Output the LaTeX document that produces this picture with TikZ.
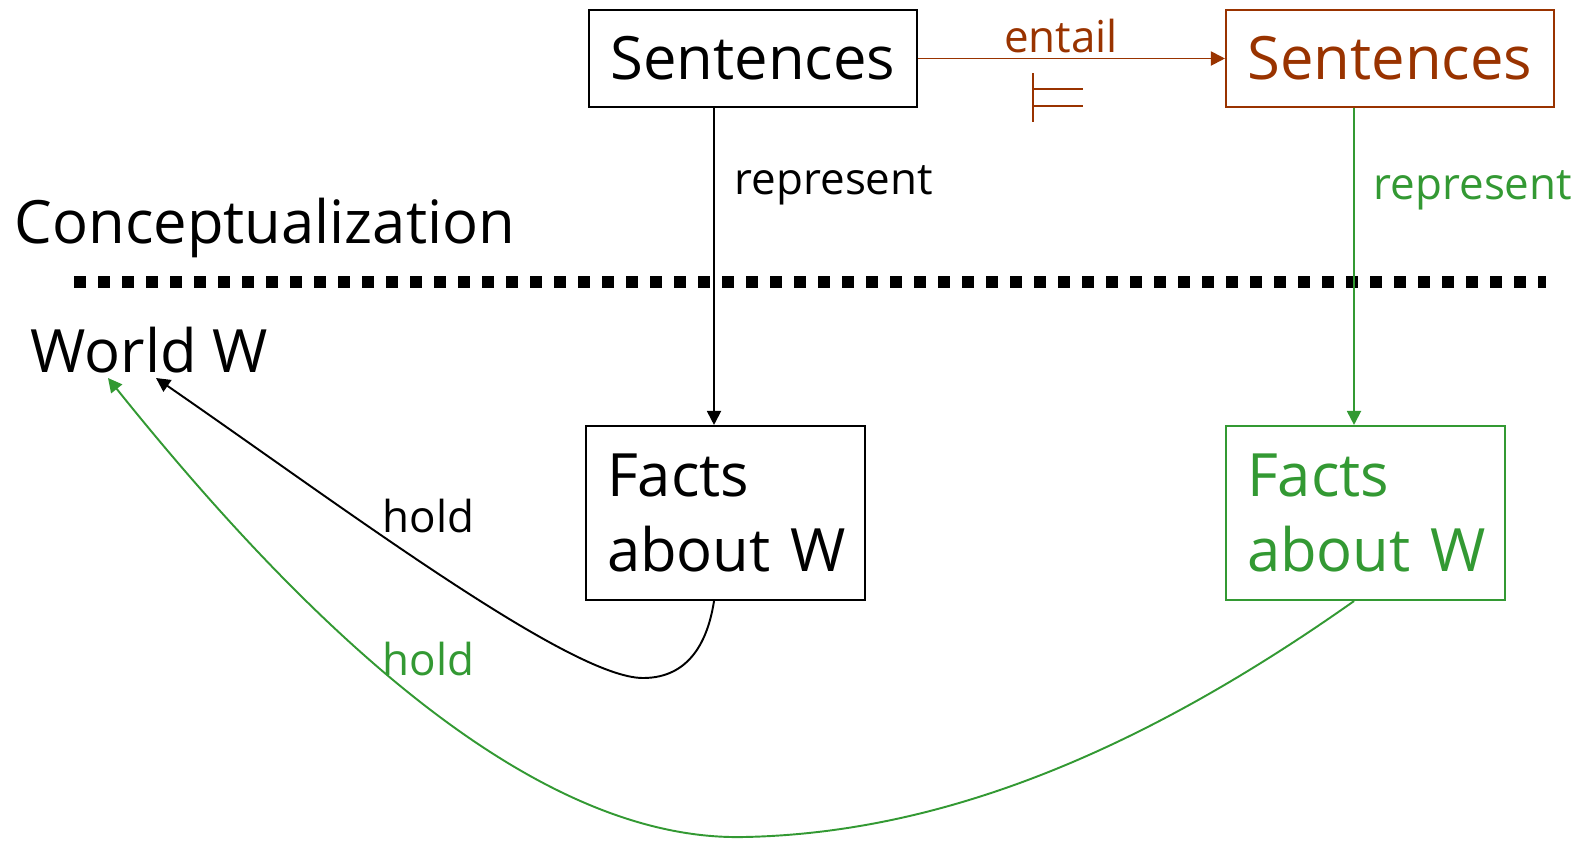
\documentclass[tikz,border=0pt]{standalone}
\usepackage{fontspec}
\setmainfont{Open Sans}
\usetikzlibrary{arrows.meta,calc}
\definecolor{brn}{RGB}{153,51,0}
\definecolor{grn}{RGB}{51,153,51}
\begin{document}
\begin{tikzpicture}[x=0.1mm,y=-0.1mm,
  big/.style={font=\fontsize{17}{21.3}\selectfont},
  small/.style={font=\fontsize{12.5}{15}\selectfont},
  box/.style={draw,line width=0.6pt,inner sep=0pt},
  factbox/.style={box,big,text width=23.7mm,inner xsep=2.1mm,inner ysep=0pt,minimum height=17.4mm,align=left},
  conn/.style={line width=0.55pt,-{Triangle[length=1.4mm,width=1.4mm]}},
  lbl/.style={inner sep=0pt,anchor=base west}]
\useasboundingbox (0,0) rectangle (1587,842);
% boxes
\node[box,big,minimum width=32.8mm,minimum height=9.7mm] (s1) at (753,58.5) {Sentences};
\node[box,big,draw=brn,text=brn,minimum width=32.8mm,minimum height=9.7mm] (s2) at (1390,58.5) {Sentences};
\node[factbox] (f1) at (725.5,513) {Facts\\\mbox{about W}};
\node[factbox,draw=grn,text=grn] (f2) at (1365.5,513) {Facts\\\mbox{about W}};
% plain labels
\node[lbl,big] (concept) at (14,243) {Conceptualization};
\node[lbl,big] (world) at (30,372) {World W};
\node[lbl,small] (rep1) at (734,194) {represent};
\node[lbl,small,text=grn] (rep2) at (1373,199) {represent};
\node[inner sep=0pt,anchor=base,small,text=brn] (ent) at (1061,52) {entail};
\node[lbl,small] (hold1) at (382,532) {hold};
\node[lbl,small,text=grn] (hold2) at (382,675) {hold};
% helper coordinates
\coordinate (r1) at (714,0);
\coordinate (r2) at (1354,0);
\coordinate (wb) at (156,378);
\coordinate (wg) at (108,378);
% dotted separator
\draw[line width=1.2mm,dash pattern=on 1.2mm off 1.2mm] (74,282) -- (1546,282);
% entail arrow and symbol
\draw[conn,color=brn] (s1.east) -- (s2.west);
\draw[brn,line width=0.6pt] (1033,73) -- (1033,122) (1033,89) -- (1083,89) (1033,106) -- (1083,106);
% represent arrows
\draw[conn] (s1.south -| r1) -- (f1.north -| r1);
\draw[conn,color=grn] (s2.south -| r2) -- (f2.north -| r2);
% hold curves
\draw[conn] (f1.south -| r1) .. controls (708,640) and (690,678) .. (643,678)
  .. controls (570,678) and (340,505) .. (wb);
\draw[conn,color=grn] (f2.south -| r2) .. controls (1150,745) and (950,833) .. (744,837)
  .. controls (560,841) and (350,680) .. (wg);
\end{tikzpicture}
\end{document}
